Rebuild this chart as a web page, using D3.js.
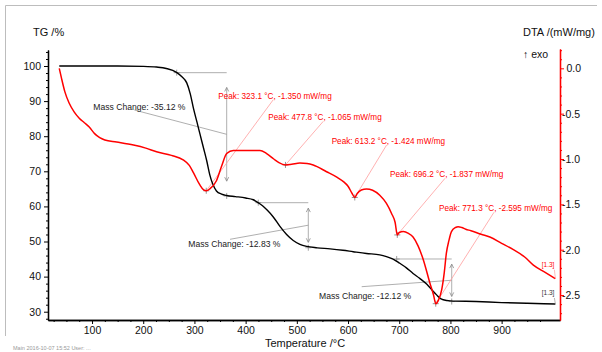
<!DOCTYPE html>
<html>
<head>
<meta charset="utf-8">
<script src="https://cdn.jsdelivr.net/npm/d3@7"></script>
<style>
  body { margin: 0; background: #fff; }
  svg { display: block; font-family: Arial, "Liberation Sans", sans-serif; }
</style>
</head>
<body>
<div id="chart"></div>
<script>
// TG curve: temperature (°C), mass (%)
var tgCurve = [
  [36, 100], [100, 100], [150, 100], [200, 99.9], [226, 99.7], [245, 99.3],
  [265, 98.2], [275, 97.0], [285, 95.2], [292, 92.0], [298, 88.0], [305, 84.0],
  [311, 80.5], [318, 76.5], [324, 73.0], [330, 69.0], [336, 66.3], [343, 64.4],
  [353, 63.5], [363, 63.1], [380, 62.8], [400, 62.4], [415, 61.9], [425, 61.0],
  [433, 60.2], [441, 59.1], [454, 57.0], [467, 54.3], [480, 52.0], [493, 50.3],
  [506, 49.2], [519, 48.6], [540, 48.2], [565, 47.9], [590, 47.5], [610, 47.1],
  [636, 46.6], [662, 46.2], [675, 45.7], [688, 45.0], [701, 43.8], [714, 42.5],
  [727, 40.9], [740, 39.5], [754, 37.8], [764, 36.2], [773, 34.8], [780, 33.8],
  [786, 33.4], [800, 33.1], [850, 32.9], [900, 32.6], [950, 32.4], [1005, 32.2]
];

// DTA curve: temperature (°C), signal (mW/mg)
var dtaCurve = [
  [36, 0.0], [40, -0.10], [47, -0.26], [55, -0.38], [65, -0.48], [75, -0.55],
  [85, -0.60], [95, -0.65], [105, -0.72], [115, -0.765], [125, -0.79], [148, -0.812],
  [181, -0.846], [205, -0.88], [226, -0.92], [255, -0.96], [278, -1.01], [290, -1.07],
  [298, -1.15], [310, -1.28], [318, -1.34], [323.1, -1.35], [330, -1.33], [343, -1.24],
  [353, -1.08], [363, -0.94], [376, -0.905], [400, -0.905], [428, -0.905], [441, -0.94],
  [455, -1.00], [465, -1.04], [477.8, -1.065], [490, -1.058], [506, -1.045], [520, -1.05],
  [532, -1.066], [558, -1.14], [578, -1.20], [591, -1.25], [600, -1.30], [608, -1.38],
  [613.2, -1.424], [618, -1.38], [626, -1.342], [636, -1.33], [648, -1.345], [662, -1.40],
  [675, -1.49], [685, -1.60], [692, -1.70], [696.2, -1.837], [700, -1.81], [708, -1.80],
  [718, -1.82], [727, -1.86], [737, -1.96], [747, -2.11], [760, -2.37], [767, -2.50],
  [771.3, -2.595], [777, -2.55], [783, -2.44], [788, -2.25], [792, -2.04], [797, -1.90],
  [802, -1.80], [810, -1.755], [815, -1.746], [822, -1.755], [830, -1.775], [840, -1.79],
  [860, -1.83], [877, -1.86], [900, -1.93], [923, -2.00], [945, -2.08], [962, -2.17],
  [985, -2.25], [1005, -2.32]
];

var tempTicks = [100, 200, 300, 400, 500, 600, 700, 800, 900];
var tgTicks = [30, 40, 50, 60, 70, 80, 90, 100];
var dtaTicks = [0, -0.5, -1.0, -1.5, -2.0, -2.5];

// peak evaluations: peak temp, peak value, label position (°C, mW/mg)
var peaks = [
  { t: 323.1, v: -1.350, lt: 346.6, lv: -0.335 },
  { t: 477.8, v: -1.065, lt: 444.3, lv: -0.573 },
  { t: 613.2, v: -1.424, lt: 568.0, lv: -0.834 },
  { t: 696.2, v: -1.837, lt: 682.0, lv: -1.202 },
  { t: 771.3, v: -2.595, lt: 777.7, lv: -1.576 }
];

// mass change steps: start on curve, vertical at tv, change, label and leader start
var massSteps = [
  { t0: 265.4, top: 98.1, tv: 363.0, change: -35.12, lt: 102.5, lv: 87.55, st: 182.6, sv: 87.47 },
  { t0: 424.7, top: 61.06, tv: 522.4, change: -12.83, lt: 288.0, lv: 48.44, st: 369.5, sv: 50.63 },
  { t0: 695.0, top: 45.02, tv: 802.5, change: -12.12, lt: 543.3, lv: 33.7, st: 626.7, sv: 37.13 }
];

var svg = d3.select("#chart").append("svg")
    .attr("width", 602)
    .attr("height", 352);

var x = d3.scaleLinear().domain([14, 1014]).range([48, 560]);
var yTG = d3.scaleLinear().domain([27.64, 104.56]).range([320, 50]);
var yDTA = d3.scaleLinear().domain([-2.775, 0.213]).range([320, 49]);

// outer frame (top and left only visible)
svg.append("path")
    .attr("d", "M5.5,336V5.5H597")
    .attr("fill", "none")
    .attr("stroke", "#bdbdbd")
    .attr("stroke-width", 1);

svg.append("text")
    .attr("x", 13).attr("y", 349.5)
    .attr("font-size", "5.5px")
    .attr("fill", "#999")
    .text("Main  2016-10-07 15:52   User: ...");

// axes
function styleAxis(g, color, size) {
    g.selectAll(".domain").attr("stroke", color).attr("stroke-width", 1.3);
    g.selectAll(".tick line").attr("stroke", color);
    g.selectAll(".tick text").attr("fill", "#111").attr("font-size", size);
}

var minorTemp = d3.range(25, 1001, 25).filter(function (d) { return d % 100 != 0; });
svg.append("g")
    .attr("transform", "translate(0,320)")
    .call(d3.axisBottom(x).tickValues(minorTemp).tickSize(2).tickFormat("").tickSizeOuter(0))
    .call(styleAxis, "#000", "10.5px");
svg.append("g")
    .attr("transform", "translate(0,320)")
    .call(d3.axisBottom(x).tickValues(tempTicks).tickSize(4).tickSizeOuter(0).tickPadding(2.5))
    .call(styleAxis, "#000", "10.5px");

var minorTG = d3.range(28, 105, 2).filter(function (d) { return d % 10 != 0; });
svg.append("g")
    .attr("transform", "translate(48,0)")
    .call(d3.axisLeft(yTG).tickValues(minorTG).tickSize(2).tickFormat("").tickSizeOuter(0))
    .call(styleAxis, "#000", "10.5px");
svg.append("g")
    .attr("transform", "translate(48,0)")
    .call(d3.axisLeft(yTG).tickValues(tgTicks).tickSize(4).tickSizeOuter(0).tickPadding(3))
    .call(styleAxis, "#000", "10.5px");

var minorDTA = d3.range(-27, 3, 1).map(function (d) { return d / 10; })
    .filter(function (d) { return Math.round(d * 10) % 5 != 0; });
svg.append("g")
    .attr("transform", "translate(560,0)")
    .call(d3.axisRight(yDTA).tickValues(minorDTA).tickSize(2).tickFormat("").tickSizeOuter(0))
    .call(styleAxis, "#f00", "10.5px");
var rightAxis = svg.append("g")
    .attr("transform", "translate(560,0)")
    .call(d3.axisRight(yDTA).tickValues(dtaTicks).tickSize(4).tickSizeOuter(0)
        .tickFormat(function (d) { return d == 0 ? "0.0" : "-" + Math.abs(d).toFixed(1); }))
    .call(styleAxis, "#f00", "10.5px");
rightAxis.selectAll(".tick text")
    .attr("x", function (d) { return d == 0 ? 6.5 : 2; });

// axis titles
svg.append("text")
    .attr("x", 33).attr("y", 35.5)
    .attr("font-size", "11px").attr("fill", "#111")
    .text("TG /%");
svg.append("text")
    .attr("x", 523).attr("y", 35.5)
    .attr("font-size", "11px").attr("fill", "#111")
    .text("DTA /(mW/mg)");
svg.append("text")
    .attr("x", 523).attr("y", 58)
    .attr("font-size", "10.5px").attr("fill", "#111")
    .text("\u2191 exo");
svg.append("text")
    .attr("x", 305).attr("y", 347)
    .attr("text-anchor", "middle")
    .attr("font-size", "11px").attr("fill", "#111")
    .text("Temperature /\u00b0C");

// curves
var tgLine = d3.line()
    .x(function (d) { return x(d[0]); })
    .y(function (d) { return yTG(d[1]); })
    .curve(d3.curveMonotoneX);
var dtaLine = d3.line()
    .x(function (d) { return x(d[0]); })
    .y(function (d) { return yDTA(d[1]); })
    .curve(d3.curveMonotoneX);

function cross(g, px, py, color) {
    g.append("path")
        .attr("d", "M" + (px - 3) + "," + py + "h6M" + px + "," + (py - 3) + "v6")
        .attr("stroke", color)
        .attr("stroke-width", 0.8);
}

// mass change annotations
var ann = svg.append("g");
massSteps.forEach(function (s) {
    var bottom = s.top + s.change;
    var xv = x(s.tv), yt = yTG(s.top), yb = yTG(bottom);
    var inset = (yb - yt) * 0.12;
    ann.append("line")
        .attr("x1", x(s.t0)).attr("y1", yt)
        .attr("x2", xv).attr("y2", yt)
        .attr("stroke", "#9a9a9a").attr("stroke-width", 0.8);
    ann.append("line")
        .attr("x1", xv).attr("y1", yt + inset)
        .attr("x2", xv).attr("y2", yb - inset)
        .attr("stroke", "#9a9a9a").attr("stroke-width", 0.8);
    ann.append("path")
        .attr("d", "M" + (xv - 2) + "," + (yt + inset + 4) + "L" + xv + "," + (yt + inset) + "L" + (xv + 2) + "," + (yt + inset + 4)
            + "M" + (xv - 2) + "," + (yb - inset - 4) + "L" + xv + "," + (yb - inset) + "L" + (xv + 2) + "," + (yb - inset - 4))
        .attr("fill", "none").attr("stroke", "#8a8a8a").attr("stroke-width", 0.8);
    ann.append("line")
        .attr("x1", x(s.st)).attr("y1", yTG(s.sv))
        .attr("x2", xv).attr("y2", (yt + yb) / 2)
        .attr("stroke", "#9a9a9a").attr("stroke-width", 0.8);
    cross(ann, x(s.t0), yt, "#888");
    cross(ann, xv, yb, "#888");
    ann.append("text")
        .attr("x", x(s.lt)).attr("y", yTG(s.lv))
        .attr("font-size", "8.6px").attr("fill", "#222")
        .text("Mass Change: " + s.change.toFixed(2) + " %");
});

// peak annotations
peaks.forEach(function (p) {
    var lx = x(p.lt), ly = yDTA(p.lv);
    ann.append("line")
        .attr("x1", x(p.t)).attr("y1", yDTA(p.v))
        .attr("x2", lx + 55).attr("y2", ly + 1)
        .attr("stroke", "#ff9d9d").attr("stroke-width", 0.8);
    cross(ann, x(p.t), yDTA(p.v), "#777");
    ann.append("text")
        .attr("x", lx).attr("y", ly)
        .attr("font-size", "8.2px").attr("fill", "#f00")
        .text("Peak: " + p.t.toFixed(1) + " \u00b0C, " + p.v.toFixed(3) + " mW/mg");
});

svg.append("path")
    .datum(tgCurve)
    .attr("d", tgLine)
    .attr("fill", "none")
    .attr("stroke", "#000")
    .attr("stroke-width", 1.4);

svg.append("path")
    .datum(dtaCurve)
    .attr("d", dtaLine)
    .attr("fill", "none")
    .attr("stroke", "#f00")
    .attr("stroke-width", 1.5);

// segment labels at curve ends
var lastTG = tgCurve[tgCurve.length - 1];
var lastDTA = dtaCurve[dtaCurve.length - 1];
[[lastDTA, yDTA, "#f00", "#ff9d9d", 12], [lastTG, yTG, "#333", "#999", 9]].forEach(function (e) {
    var px = x(e[0][0]), py = e[1](e[0][1]);
    svg.append("line")
        .attr("x1", px - 1).attr("y1", py - e[4] + 3)
        .attr("x2", px).attr("y2", py)
        .attr("stroke", e[3]).attr("stroke-width", 0.7);
    svg.append("text")
        .attr("x", px - 1).attr("y", py - e[4])
        .attr("text-anchor", "end")
        .attr("font-size", "6.5px").attr("fill", e[2])
        .text("[1.3]");
});
</script>
</body>
</html>
